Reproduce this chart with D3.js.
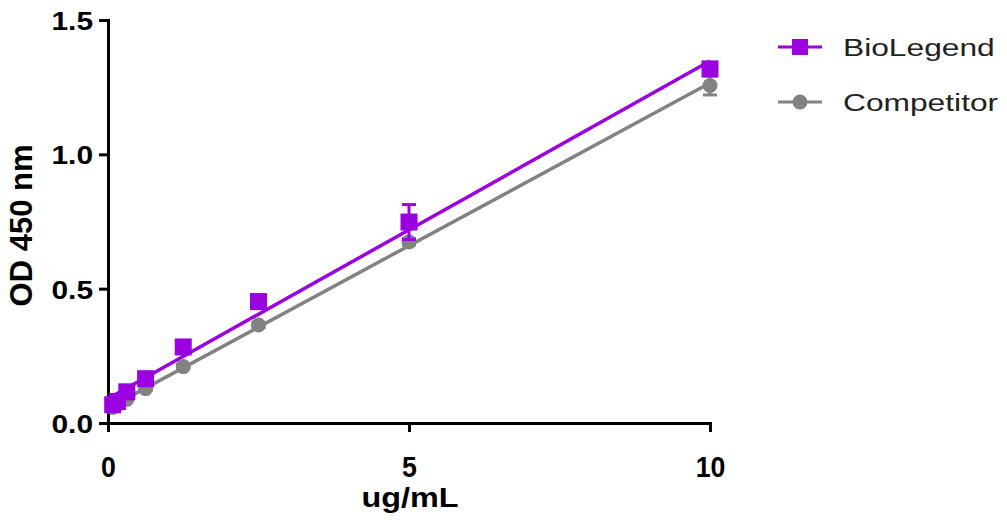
<!DOCTYPE html>
<html>
<head>
<meta charset="utf-8">
<script src="https://cdn.jsdelivr.net/npm/d3@7"></script>
<style>
  body { margin: 0; background: #fff; }
  text { font-family: "Liberation Sans", Arial, sans-serif; }
</style>
</head>
<body>
<div id="chart"></div>
<script>
// concentrations (ug/mL), two-fold dilution series
var conc = [0.078, 0.156, 0.3125, 0.625, 1.25, 2.5, 5, 10];

// OD 450 readings
var bioMean = [0.068, 0.080, 0.116, 0.165, 0.283, 0.452, 0.748, 1.318];
var bioErr  = [0.005, 0.005, 0.006, 0.008, 0.010, 0.012, 0.065, 0.015];
var compMean = [0.058, 0.068, 0.088, 0.128, 0.210, 0.365, 0.674, 1.256];
var compErr  = [0.004, 0.004, 0.005, 0.006, 0.008, 0.010, 0.012, 0.035];

var seriesNames = ["BioLegend", "Competitor"];
var xTicks = [0, 5, 10];
var yTicks = [0.0, 0.5, 1.0, 1.5];

var W = 1007, H = 525;
var margin = {top: 20, right: 297, bottom: 102, left: 108};
var width = W - margin.left - margin.right,
    height = H - margin.top - margin.bottom;

var purple = "#9b00e0", grey = "#828282";

var svg = d3.select("#chart").append("svg")
    .attr("width", W).attr("height", H);
var g = svg.append("g")
    .attr("transform", "translate(" + margin.left + "," + margin.top + ")");

var x = d3.scaleLinear().domain([0, 10]).range([0, width]);
var y = d3.scaleLinear().domain([0, 1.5]).range([height, 0]);

// simple least squares fit
function linFit(xs, ys) {
    var mx = d3.mean(xs), my = d3.mean(ys);
    var sxy = d3.sum(xs, function(v, i) { return (v - mx) * (ys[i] - my); });
    var sxx = d3.sum(xs, function(v) { return (v - mx) * (v - mx); });
    var b = sxy / sxx;
    return {slope: b, icpt: my - b * mx};
}

var series = [
    {name: seriesNames[1], mean: compMean, err: compErr, color: grey, shape: "circle"},
    {name: seriesNames[0], mean: bioMean, err: bioErr, color: purple, shape: "square"}
];

// axes
var yAxis = g.append("g")
    .call(d3.axisLeft(y).tickValues(yTicks).tickFormat(d3.format(".1f")).tickSize(9).tickPadding(6));
var xAxis = g.append("g")
    .attr("transform", "translate(0," + height + ")")
    .call(d3.axisBottom(x).tickValues(xTicks).tickFormat(d3.format("d")).tickSize(9).tickPadding(24));
[xAxis, yAxis].forEach(function(a) {
    a.select(".domain").attr("stroke", "#000").attr("stroke-width", 3);
    a.selectAll(".tick line").attr("stroke", "#000").attr("stroke-width", 3);
    a.selectAll(".tick text")
        .attr("fill", "#000")
        .style("font-weight", "bold")
        .style("font-family", "'Liberation Sans', Arial, sans-serif");
});
yAxis.selectAll(".tick text").attr("dy", "0.36em")
    .style("font-size", "26px")
    .attr("transform", "scale(1.15,1)")
    .attr("x", -15 / 1.15);
xAxis.selectAll(".tick text")
    .style("font-size", "29px")
    .attr("transform", "scale(0.92,1)");

// axis titles
g.append("text")
    .attr("transform", "translate(" + (width / 2 + 1) + "," + (height + 84) + ") scale(1.2,1)")
    .attr("text-anchor", "middle")
    .style("font-size", "27px").style("font-weight", "bold")
    .text("ug/mL");
g.append("text")
    .attr("transform", "translate(" + (-76) + "," + (height / 2 + 4) + ") rotate(-90)")
    .attr("text-anchor", "middle")
    .style("font-size", "31px").style("font-weight", "bold")
    .text("OD 450 nm");

// fit lines
series.forEach(function(s) {
    var fit = linFit(conc, s.mean);
    var x0 = d3.min(conc), x1 = d3.max(conc);
    g.append("line")
        .attr("x1", x(x0)).attr("y1", y(fit.icpt + fit.slope * x0))
        .attr("x2", x(x1)).attr("y2", y(fit.icpt + fit.slope * x1))
        .attr("stroke", s.color).attr("stroke-width", 3.5);
});

// error bars and markers
series.forEach(function(s) {
    var pts = conc.map(function(c, i) { return {x: c, y: s.mean[i], e: s.err[i]}; });
    var eb = g.append("g").selectAll("g").data(pts).enter().append("g")
        .attr("stroke", s.color).attr("stroke-width", 3);
    eb.append("line")
        .attr("x1", function(d) { return x(d.x); }).attr("x2", function(d) { return x(d.x); })
        .attr("y1", function(d) { return y(d.y - d.e); }).attr("y2", function(d) { return y(d.y + d.e); });
    eb.append("line")
        .attr("x1", function(d) { return x(d.x) - 7; }).attr("x2", function(d) { return x(d.x) + 7; })
        .attr("y1", function(d) { return y(d.y + d.e); }).attr("y2", function(d) { return y(d.y + d.e); });
    eb.append("line")
        .attr("x1", function(d) { return x(d.x) - 7; }).attr("x2", function(d) { return x(d.x) + 7; })
        .attr("y1", function(d) { return y(d.y - d.e); }).attr("y2", function(d) { return y(d.y - d.e); });

    if (s.shape === "square") {
        g.append("g").selectAll("rect").data(pts).enter().append("rect")
            .attr("x", function(d) { return x(d.x) - 8.5; })
            .attr("y", function(d) { return y(d.y) - 8.5; })
            .attr("width", 17).attr("height", 17)
            .attr("fill", s.color);
    } else {
        g.append("g").selectAll("circle").data(pts).enter().append("circle")
            .attr("cx", function(d) { return x(d.x); })
            .attr("cy", function(d) { return y(d.y); })
            .attr("r", 7.5)
            .attr("fill", s.color);
    }
});

// legend
var legend = svg.append("g").attr("transform", "translate(778,47)");
[{name: seriesNames[0], color: purple, shape: "square"},
 {name: seriesNames[1], color: grey, shape: "circle"}].forEach(function(s, i) {
    var row = legend.append("g").attr("transform", "translate(0," + (i * 55) + ")");
    row.append("line").attr("x1", 0).attr("x2", 44).attr("y1", 0).attr("y2", 0)
        .attr("stroke", s.color).attr("stroke-width", 3);
    if (s.shape === "square") {
        row.append("rect").attr("x", 14).attr("y", -8).attr("width", 16).attr("height", 16).attr("fill", s.color);
    } else {
        row.append("circle").attr("cx", 22).attr("cy", 0).attr("r", 7.5).attr("fill", s.color);
    }
    row.append("text")
        .attr("transform", "translate(65,9) scale(1.38,1)")
        .attr("fill", "#222")
        .style("font-size", "23px")
        .text(s.name);
});
</script>
</body>
</html>
